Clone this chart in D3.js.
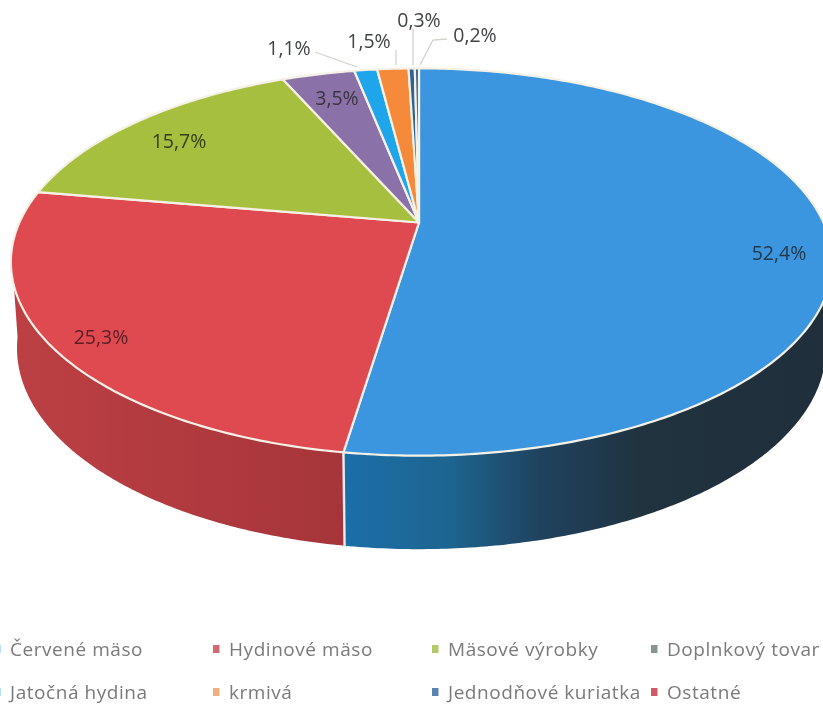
<!DOCTYPE html>
<html><head><meta charset="utf-8">
<script src="https://cdn.jsdelivr.net/npm/d3@7"></script>
<style>html,body{margin:0;background:#fff;overflow:hidden}svg{display:block;filter:blur(.4px)}text{font-family:"Open Sans",sans-serif}</style>
</head><body><svg id="c" width="823" height="706"></svg>
<script>
const categories=["Červené mäso","Hydinové mäso","Mäsové výrobky","Doplnkový tovar","Jatočná hydina","krmivá","Jednodňové kuriatka","Ostatné"];
const values=[52.4,25.3,15.7,3.5,1.1,1.5,0.3,0.2];
const labels=["52,4%","25,3%","15,7%","3,5%","1,1%","1,5%","0,3%","0,2%"];
const topColors=["#3c96df","#df4a50","#a6bf3e","#8a72a8","#1ea5ea","#f58a3a","#2c6495","#3d6488"];
const legendColors=["#6cc0ea","#cf6a70","#b4c968","#8a9490","#6cc0ea","#eeb07e","#5a84b0","#cf5a68"];
const labelColors=["#22384c","#5a1e28","#33401c","#3a3440","#404444","#404444","#404444","#404444"];
// side-wall shading along the horizontal axis (only the two front series show a wall)
const blueShadeX=[345,450,540,640,835];
const blueShade=["#1c6ea8","#1d6590","#20425f","#20333f","#1f2e3a"];
const redShadeX=[10,130,350];
const redShade=["#bc4044","#b43c40","#a5353a"];
const legendX=[10,229,448,667];
const legendY=[649,692];

const svg=d3.select("#c");
const cx=419, cy=222.5, A=402, B=140.2, k=-0.204, m=-0.006, depth=93.5, shrink=0.985;
const px=d3.scaleLinear().domain([-1,1]).range([cx-A,cx+A]);
const py=d3.scaleLinear().domain([-1,1]).range([cy-B,cy+B]);
function proj(theta,z=0){
  const u=Math.sin(theta), v=-Math.cos(theta);
  const w=1+k*v, wx=w+m*u;
  const x=cx+(px(u)-cx)/wx, y=py(v)/w;
  return [cx+(x-cx)*(1-(1-shrink)*z), y+z*depth*(0.9+0.1*Math.max(0,v))];
}
const pie=d3.pie().sort(null).value(d=>d).startAngle(0).endAngle(2*Math.PI)(values);
const line=d3.line();
const defs=svg.append("defs");
function sideGradient(id,xs,cols){
  const x0=xs[0], x1=xs[xs.length-1];
  const g=defs.append("linearGradient").attr("id",id).attr("gradientUnits","userSpaceOnUse")
    .attr("x1",x0).attr("x2",x1).attr("y1",0).attr("y2",0);
  const t=d3.scaleLinear().domain([x0,x1]).range([0,1]);
  xs.forEach((x,i)=>g.append("stop").attr("offset",t(x)).attr("stop-color",cols[i]));
}
sideGradient("sideBlue",blueShadeX,blueShade);
sideGradient("sideRed",redShadeX,redShade);
const sideFill=["url(#sideBlue)","url(#sideRed)"];
const gSide=svg.append("g"), gTop=svg.append("g");
const visStart=1.72, visEnd=4.56;
pie.slice(0,2).forEach((d,i)=>{
  const a=Math.max(d.startAngle,visStart), b=Math.min(d.endAngle,visEnd);
  const ts=d3.range(0,161).map(t=>a+(b-a)*t/160);
  const p=ts.map(t=>proj(t,0)).concat(ts.slice().reverse().map(t=>proj(t,1)));
  gSide.append("path").attr("d",line(p)+"Z").attr("fill",sideFill[i]);
});
gSide.append("path").attr("d",line([proj(pie[1].startAngle,0),proj(pie[1].startAngle,1)]))
  .attr("stroke","#f2eef0").attr("stroke-width",2.4).attr("fill","none");
pie.forEach((d,i)=>{
  const pts=[[cx,cy]];
  const n=Math.max(4,Math.ceil((d.endAngle-d.startAngle)*80));
  d3.range(0,n+1).forEach(t=>pts.push(proj(d.startAngle+(d.endAngle-d.startAngle)*t/n)));
  gTop.append("path").attr("d",line(pts)+"Z").attr("fill",topColors[i]).attr("stroke","#f6f1e6").attr("stroke-width",2.2).attr("stroke-linejoin","round");
});

// data labels
const labelPos=[[779,253],[101,337],[179,141],[337,98],[289,48],[369,41],[419,20],[475,35]];
svg.append("g").selectAll("text").data(labels).join("text")
  .attr("x",(d,i)=>labelPos[i][0]).attr("y",(d,i)=>labelPos[i][1]+7)
  .attr("text-anchor","middle").attr("font-size",19.5).attr("fill",(d,i)=>labelColors[i]).text(d=>d);
// leader lines
const leaders=[[[315,52],[357,67]],[[396,50],[396,65]],[[413,28],[413,65]],[[447,39],[433,40],[420,65]]];
svg.append("g").selectAll("path").data(leaders).join("path").attr("d",d=>line(d))
  .attr("fill","none").attr("stroke","#d4d0cc").attr("stroke-width",1.3);

// legend
const leg=svg.append("g");
categories.forEach((c,i)=>{
  const x=legendX[i%4], y=legendY[i<4?0:1];
  leg.append("rect").attr("x",x-16).attr("y",y-4).attr("width",6.5).attr("height",8).attr("fill",legendColors[i]);
  leg.append("text").attr("x",x).attr("y",y+6.5).attr("font-size",19).attr("letter-spacing",0.55).attr("fill","#7a7a7a").text(c);
});
</script></body></html>
